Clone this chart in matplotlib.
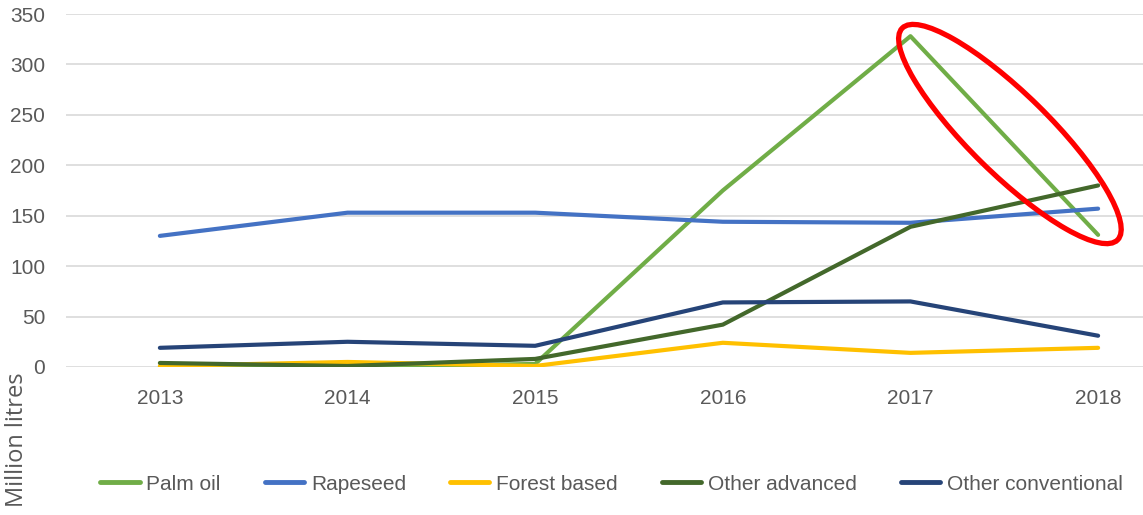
import matplotlib.pyplot as plt
from matplotlib.patches import Ellipse
from matplotlib.transforms import IdentityTransform

years = [2013, 2014, 2015, 2016, 2017, 2018]
palm_oil = [0, 0, 3, 175, 328, 131]
rapeseed = [130, 153, 153, 144, 143, 157]
forest_based = [1, 5, 1, 24, 14, 19]
other_advanced = [4, 1, 8, 42, 139, 180]
other_conventional = [19, 25, 21, 64, 65, 31]

series = [
    ('Palm oil', palm_oil, '#70ad47'),
    ('Rapeseed', rapeseed, '#4472c4'),
    ('Forest based', forest_based, '#ffc000'),
    ('Other advanced', other_advanced, '#43682b'),
    ('Other conventional', other_conventional, '#264478'),
]

plt.rcParams['font.family'] = ['Liberation Sans', 'DejaVu Sans']

fig = plt.figure(figsize=(11.43, 5.15), dpi=100)
ax = fig.add_axes([0.0578, 0.2874, 0.985, 0.6854])

for name, vals, col in series:
    ax.plot(years, vals, color=col, lw=3, label=name, solid_capstyle='round')

ax.set_xlim(2012.5, 2018.5)
ax.set_ylim(0, 350)
ax.set_xticks(years)
ax.set_yticks(range(0, 351, 50))
ax.grid(axis='y', color='#d9d9d9', lw=1.2)
ax.set_axisbelow(True)
for s in ax.spines.values():
    s.set_visible(False)
ax.tick_params(length=0, labelsize=15, colors='#595959')
ax.tick_params(axis='y', pad=15)
ax.tick_params(axis='x', pad=16)

fig.text(0.015, 0.1456, 'Million litres', rotation=90, fontsize=17,
         color='#595959', ha='center', va='center', family='Open Sans')

leg = fig.legend(loc='center', bbox_to_anchor=(0.535, 0.06), ncol=5,
                 frameon=False, fontsize=15, handlelength=1.9,
                 handletextpad=0.33, columnspacing=2.1)
for t in leg.get_texts():
    t.set_color('#595959')
for h in leg.get_lines():
    h.set_linewidth(3.5)

# red highlight ellipse around the palm oil drop
fig.canvas.draw()
cx, cy = ax.transData.transform((2017.53, 231))
ell = Ellipse((cx, cy), 302, 80, angle=-44.5, fill=False, ec='#ff0000',
              lw=3.8, transform=IdentityTransform(), zorder=10)
fig.patches.append(ell)

fig.savefig('out.png', dpi=100)
